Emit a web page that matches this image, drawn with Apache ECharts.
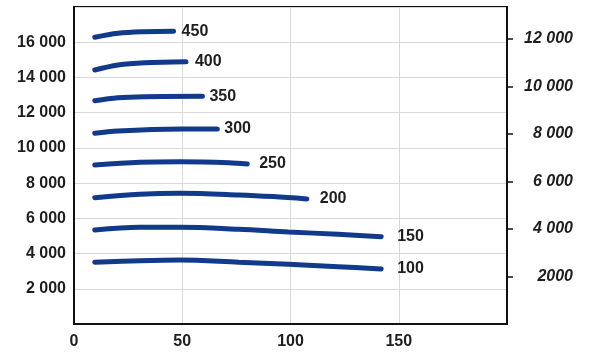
<!DOCTYPE html>
<html>
<head>
<meta charset="utf-8">
<script src="https://cdn.jsdelivr.net/npm/echarts@6/dist/echarts.min.js"></script>
<style>html,body{margin:0;padding:0;background:#fff}#c{width:591px;height:352px}</style>
</head>
<body>
<div id="c"></div>
<script>
// Curve names (end labels)
const curveNames = ['450', '400', '350', '300', '250', '200', '150', '100'];
// x values and y values (left axis units) per curve
const x450 = [9.6, 20.3, 32.6, 46.0];
const y450 = [16280, 16510, 16600, 16625];
const x400 = [9.6, 20.3, 32.6, 51.7];
const y400 = [14425, 14710, 14840, 14895];
const x350 = [9.6, 20.3, 32.6, 59.3];
const y350 = [12680, 12850, 12910, 12930];
const x300 = [9.6, 20.3, 50.0, 66.2];
const y300 = [10830, 10960, 11070, 11075];
const x250 = [9.6, 30.3, 49.1, 71.5, 80.0];
const y250 = [9030, 9185, 9215, 9160, 9085];
const x200 = [9.6, 30.3, 49.1, 76.1, 92.0, 107.5];
const y200 = [7175, 7365, 7420, 7330, 7235, 7100];
const x150 = [9.6, 30.3, 49.1, 76.1, 99.1, 122.0, 141.9];
const y150 = [5340, 5490, 5490, 5380, 5225, 5095, 4960];
const x100 = [9.6, 30.3, 49.1, 76.1, 99.1, 122.0, 141.9];
const y100 = [3505, 3595, 3635, 3505, 3390, 3255, 3125];

// axis ticks
const xTickValues = [0, 50, 100, 150];
const leftTickValues = [2000, 4000, 6000, 8000, 10000, 12000, 14000, 16000];
const rightTickValues = [2000, 4000, 6000, 8000, 10000, 12000];
const rightTickLabels = ['2000', '4 000', '6 000', '8 000', '10 000', '12 000'];

const curvesX = [x450, x400, x350, x300, x250, x200, x150, x100];
const curvesY = [y450, y400, y350, y300, y250, y200, y150, y100];
const labelGap = [8, 9, 7, 7, 12, 13, 16, 16];

const lineColor = '#11398c';
const textColor = '#1e1e1e';
const font = 'Liberation Sans, Arial, Helvetica, sans-serif';

const spaced = v => String(v).replace(/\B(?=(\d{3})+(?!\d))/g, ' ');

const series = curveNames.map((n, i) => ({
  name: n,
  type: 'line',
  smooth: 0.35,
  symbol: 'none',
  yAxisIndex: 0,
  lineStyle: { color: lineColor, width: 5, cap: 'round' },
  data: curvesX[i].map((x, j) => [x, curvesY[i][j]]),
  endLabel: {
    show: true,
    formatter: n,
    distance: labelGap[i],
    color: textColor,
    fontSize: 16,
    fontWeight: 'bold',
    fontFamily: font
  }
}));

const chart = echarts.init(document.getElementById('c'), null, { renderer: 'canvas' });
chart.setOption({
  animation: false,
  backgroundColor: '#fff',
  grid: { left: 74, right: 84, top: 7, bottom: 28, show: true, borderColor: '#111', borderWidth: 2, backgroundColor: 'transparent' },
  xAxis: {
    type: 'value', min: 0, max: 200, interval: 50,
    axisLine: { show: true, lineStyle: { color: '#111', width: 2 } },
    axisTick: { show: false },
    splitLine: { show: true, lineStyle: { color: '#d9d9d9', width: 1 } },
    axisLabel: {
      customValues: xTickValues,
      margin: 10, color: textColor, fontSize: 16, fontWeight: 'bold', fontFamily: font,
      formatter: v => String(v)
    }
  },
  yAxis: [{
    type: 'value', min: 0, max: 18000, interval: 2000, position: 'left',
    axisLine: { show: true, lineStyle: { color: '#111', width: 2 } },
    axisTick: { show: false },
    splitLine: { show: true, lineStyle: { color: '#d9d9d9', width: 1 } },
    axisLabel: {
      customValues: leftTickValues,
      margin: 8, color: textColor, fontSize: 16, fontWeight: 'bold', fontFamily: font,
      formatter: v => spaced(v)
    }
  }, {
    type: 'value', min: 0, max: 13350, interval: 2000, position: 'right',
    axisLine: { show: true, lineStyle: { color: '#111', width: 2 } },
    axisTick: { show: true, inside: false, length: 6, customValues: rightTickValues, lineStyle: { color: '#111', width: 1.5 } },
    splitLine: { show: false },
    axisLabel: {
      customValues: rightTickValues,
      margin: 66, align: 'right', color: textColor, fontSize: 16, fontWeight: 'bold', fontStyle: 'italic', fontFamily: font,
      formatter: v => rightTickLabels[rightTickValues.indexOf(v)] || ''
    }
  }],
  series: series
});
</script>
</body>
</html>
